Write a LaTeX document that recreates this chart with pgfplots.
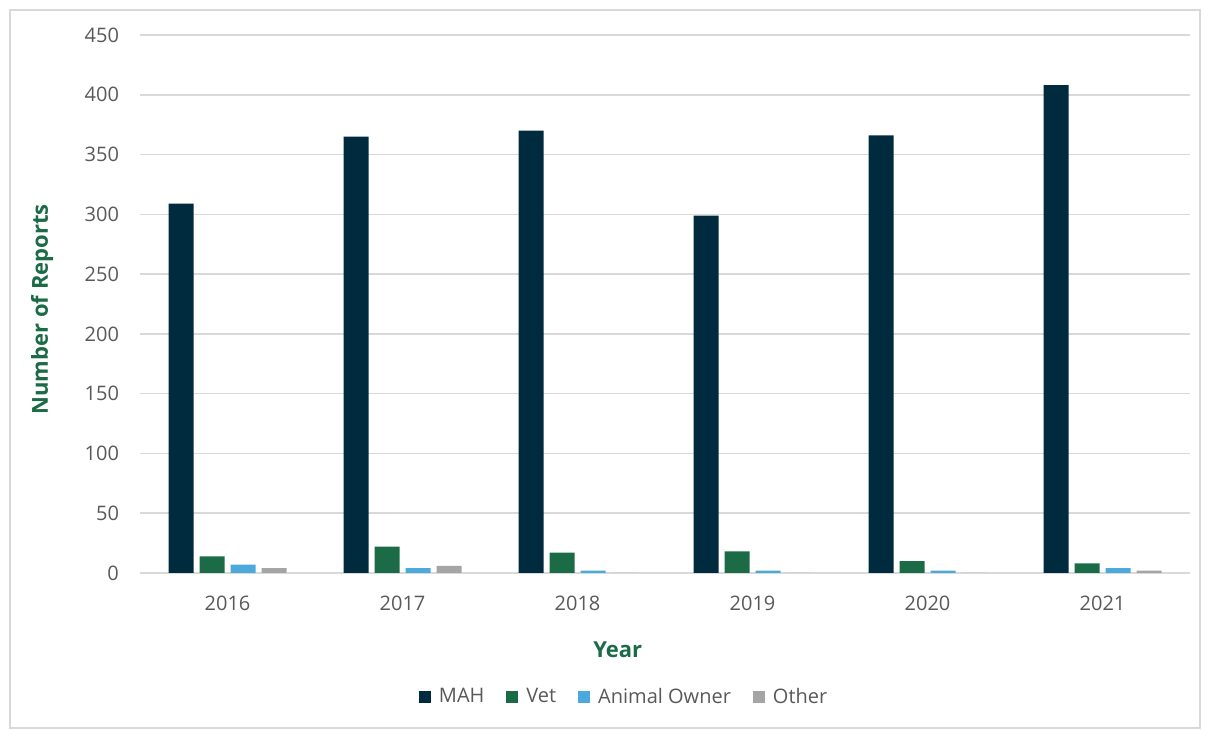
\documentclass[border=0pt]{standalone}
\usepackage{pgfplots}
\pgfplotsset{compat=1.18}
\usepackage{fontspec}
\setmainfont{Open Sans}
\definecolor{mah}{HTML}{002B3F}
\definecolor{vet}{HTML}{1B6B47}
\definecolor{owner}{HTML}{4BA9DC}
\definecolor{other}{HTML}{A5A5A5}
\definecolor{gridc}{HTML}{D9D9D9}
\definecolor{txt}{HTML}{595959}
\definecolor{ttl}{HTML}{1B6B47}
\begin{document}
\begin{tikzpicture}
\useasboundingbox (0,0) rectangle (602.5pt,365.5pt);
\draw[gridc, line width=0.8pt] (5pt,1.5pt) rectangle (600pt,360.5pt);
\begin{axis}[
  at={(70pt,79pt)}, anchor=south west,
  scale only axis, width=525pt, height=269pt,
  ybar=3pt, bar width=12.5pt,
  xmin=-0.5, xmax=5.5, ymin=0, ymax=450,
  xtick={0,1,2,3,4,5},
  xticklabels={2016,2017,2018,2019,2020,2021},
  ytick={0,50,...,450},
  major tick length=0pt,
  axis line style={draw=none},
  ymajorgrids, grid style={gridc, line width=0.8pt},
  /pgf/number format/assume math mode=true,
  tick label style={font=\fontsize{10}{12}\selectfont, text=txt},
  yticklabel style={xshift=-7pt},
  xticklabel style={yshift=-8pt},
  xlabel={Year},
  ylabel={Number of Reports},
  xlabel style={at={(axis description cs:0.455,-0.143)}, anchor=center, font=\fontsize{11}{13}\selectfont\bfseries, text=ttl},
  ylabel style={at={(axis description cs:-0.0933,0.49)}, anchor=center, font=\fontsize{11}{13}\selectfont\bfseries, text=ttl},
  legend style={at={(axis description cs:0.462,-0.2305)}, anchor=center, draw=none, fill=none,
    legend columns=4, font=\fontsize{10}{12}\selectfont, text=txt,
    /tikz/every odd column/.append style={column sep=2pt},
    /tikz/every even column/.append style={column sep=9pt}},
  legend image code/.code={\fill[#1] (0pt,-3pt) rectangle (6pt,3pt);},
  every axis plot/.append style={draw=none},
]
\addplot[fill=mah] coordinates {(0,309) (1,365) (2,370) (3,299) (4,366) (5,408)};
\addplot[fill=vet] coordinates {(0,14) (1,22) (2,17) (3,18) (4,10) (5,8)};
\addplot[fill=owner] coordinates {(0,7) (1,4) (2,2) (3,2) (4,2) (5,4)};
\addplot[fill=other] coordinates {(0,4) (1,6) (2,0) (3,0) (4,0) (5,2)};
\legend{MAH,Vet,Animal Owner,Other}
\end{axis}
\end{tikzpicture}
\end{document}
